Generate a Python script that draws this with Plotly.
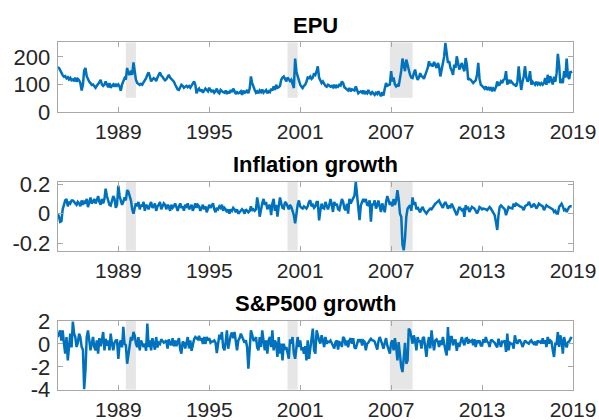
import pandas as pd
import plotly.graph_objects as go

# ---------------- data (monthly, Jan 1986 .. Dec 2019) ----------------
dates = pd.date_range("1986-01-01", periods=408, freq="MS")

epu = [
    162, 160, 152, 140, 133, 128, 130, 122, 126, 118, 124, 115,  # 1986
    118, 112, 125, 110, 120, 115, 105, 78, 100, 150, 160, 130,   # 1987
    118, 110, 105, 98, 100, 92, 88, 95, 100, 108, 117, 100,      # 1988
    95, 100, 111, 98, 90, 105, 88, 95, 100, 92, 102, 95,         # 1989
    100, 92, 77, 100, 112, 123, 118, 160, 140, 135, 150, 135,    # 1990
    180, 140, 117, 105, 100, 98, 102, 99, 108, 115, 123, 135,    # 1991
    144, 128, 111, 118, 123, 120, 112, 125, 135, 144, 132, 128,  # 1992
    120, 115, 118, 128, 135, 125, 120, 118, 110, 100, 90, 82,    # 1993
    80, 90, 99, 95, 88, 92, 95, 90, 94, 88, 95, 105,             # 1994
    111, 98, 68, 80, 85, 75, 82, 70, 78, 85, 80, 75,             # 1995
    88, 78, 72, 80, 70, 75, 85, 72, 68, 80, 75, 72,              # 1996
    70, 78, 65, 75, 68, 80, 72, 85, 75, 65, 72, 68,              # 1997
    70, 75, 62, 78, 70, 72, 80, 68, 85, 129, 105, 88,            # 1998
    80, 70, 75, 68, 78, 72, 82, 70, 75, 80, 68, 75,              # 1999
    72, 85, 78, 93, 80, 99, 88, 90, 95, 117, 125, 129,           # 2000
    120, 111, 125, 118, 112, 117, 100, 87, 194, 148, 130, 110,   # 2001
    99, 92, 87, 95, 99, 110, 125, 123, 129, 120, 125, 140,       # 2002
    135, 148, 166, 125, 111, 105, 111, 100, 95, 92, 99, 96,      # 2003
    92, 95, 90, 99, 87, 95, 92, 99, 96, 111, 105, 90,            # 2004
    85, 80, 78, 87, 75, 82, 80, 78, 93, 80, 68, 72,              # 2005
    75, 70, 78, 65, 72, 68, 80, 70, 65, 72, 68, 62,              # 2006
    70, 65, 75, 62, 57, 72, 60, 85, 105, 95, 98, 100,            # 2007
    148, 111, 125, 100, 93, 98, 93, 120, 150, 194, 166, 148,     # 2008
    190, 170, 148, 135, 125, 123, 140, 154, 130, 117, 125, 141,  # 2009
    130, 128, 120, 135, 145, 160, 184, 170, 172, 165, 182, 170,  # 2010
    160, 178, 165, 129, 150, 172, 200, 251, 200, 178, 184, 160,  # 2011
    150, 135, 172, 160, 202, 180, 154, 165, 178, 160, 148, 196,  # 2012
    170, 117, 120, 117, 112, 105, 110, 115, 135, 178, 120, 99,   # 2013
    95, 90, 85, 93, 80, 87, 82, 90, 75, 85, 80, 90,              # 2014
    111, 98, 100, 111, 105, 117, 120, 148, 99, 117, 105, 112,    # 2015
    105, 100, 99, 93, 110, 166, 120, 80, 110, 130, 166, 125,     # 2016
    110, 120, 148, 99, 110, 105, 99, 110, 100, 105, 99, 105,     # 2017
    99, 105, 123, 99, 135, 105, 130, 115, 100, 128, 110, 140,    # 2018
    211, 170, 105, 120, 105, 148, 125, 194, 130, 120, 148, 141,  # 2019
]

inflation = [
    0.00, -0.02, -0.055, -0.05, 0.03, 0.07, 0.09, 0.10, 0.05, 0.08, 0.07, 0.09,   # 1986
    0.09, 0.08, 0.07, 0.06, 0.08, 0.07, 0.05, 0.09, 0.06, 0.08, 0.07, 0.10,       # 1987
    0.045, 0.09, 0.11, 0.07, 0.08, 0.10, 0.07, 0.09, 0.12, 0.08, 0.06, 0.10,      # 1988
    0.07, 0.10, 0.17, 0.12, 0.09, 0.06, 0.055, 0.08, 0.12, 0.10, 0.04, 0.06,      # 1989
    0.19, 0.12, 0.09, 0.06, 0.08, 0.11, 0.09, 0.16, 0.15, 0.12, 0.09, 0.03,       # 1990
    0.00, 0.04, 0.07, 0.05, 0.08, 0.03, 0.06, 0.05, 0.08, 0.02, 0.06, 0.05,       # 1991
    0.03, 0.06, 0.08, 0.04, 0.05, 0.07, 0.02, 0.05, 0.06, 0.08, 0.03, 0.05,       # 1992
    0.07, 0.06, 0.03, 0.06, 0.05, 0.02, 0.06, 0.04, 0.05, 0.07, 0.04, 0.02,       # 1993
    0.05, 0.07, 0.04, 0.05, 0.02, 0.06, 0.05, 0.07, 0.03, 0.05, 0.06, 0.02,       # 1994
    0.05, 0.07, 0.04, 0.06, 0.05, 0.02, 0.04, 0.06, 0.03, 0.05, 0.01, 0.04,       # 1995
    0.06, 0.04, 0.06, 0.07, 0.03, 0.01, 0.04, 0.03, 0.05, 0.04, 0.06, 0.02,       # 1996
    0.04, 0.03, 0.01, 0.03, 0.00, 0.03, 0.02, 0.04, 0.03, 0.01, 0.03, 0.00,       # 1997
    0.01, 0.02, 0.03, 0.02, 0.00, 0.03, 0.02, 0.01, 0.02, 0.05, 0.02, 0.03,       # 1998
    0.02, 0.03, 0.11, 0.06, -0.02, 0.04, 0.07, 0.10, 0.06, 0.08, 0.03, 0.05,      # 1999
    0.06, -0.01, 0.07, 0.10, 0.02, 0.06, -0.02, 0.05, 0.11, 0.07, 0.04, 0.035,    # 2000
    0.08, 0.07, 0.05, 0.03, 0.06, 0.045, 0.02, -0.01, -0.065, 0.0, 0.06, 0.09,    # 2001
    0.05, 0.04, 0.035, 0.05, 0.04, 0.035, 0.05, 0.08, 0.09, 0.05, 0.06, 0.04,     # 2002
    0.05, 0.08, 0.08, -0.045, 0.02, 0.068, 0.04, 0.035, 0.08, 0.06, 0.03, 0.057,  # 2003
    0.10, 0.06, 0.012, 0.08, 0.057, 0.068, 0.03, 0.024, 0.068, 0.10, 0.08, 0.035, # 2004
    0.024, 0.068, 0.001, 0.10, 0.07, 0.09, 0.10, 0.123, 0.216, 0.123, 0.02, -0.043,  # 2005
    0.057, 0.08, 0.10, 0.079, 0.10, 0.06, 0.057, 0.09, -0.054, 0.068, 0.057, 0.09,   # 2006
    0.035, 0.057, 0.09, 0.05, 0.012, 0.07, 0.04, 0.01, 0.08, 0.12, 0.09, 0.06,    # 2007
    0.08, 0.05, 0.10, 0.06, 0.09, 0.16, 0.10, 0.0, -0.02, -0.21, -0.248, -0.165,  # 2008
    -0.02, 0.035, 0.046, 0.057, 0.02, 0.11, 0.06, 0.079, 0.03, 0.046, 0.024, 0.01,   # 2009
    0.035, 0.046, 0.024, 0.01, 0.001, 0.015, 0.024, 0.035, 0.03, 0.046, 0.055, 0.068, # 2010
    0.075, 0.08, 0.09, 0.07, 0.057, 0.04, 0.065, 0.079, 0.06, 0.035, 0.05, 0.045,    # 2011
    0.068, 0.05, 0.024, 0.01, -0.01, 0.02, 0.046, 0.035, 0.024, 0.03, -0.021, 0.057, # 2012
    0.035, 0.04, 0.012, 0.03, 0.046, 0.04, 0.035, 0.02, 0.001, 0.02, 0.046, 0.04,    # 2013
    0.03, 0.035, 0.035, 0.03, 0.024, 0.035, 0.046, 0.035, 0.02, 0.0, -0.01, -0.054,  # 2014
    -0.11, -0.01, 0.046, 0.057, 0.05, 0.04, 0.03, -0.01, 0.02, 0.046, 0.04, 0.035,   # 2015
    0.035, 0.068, 0.05, 0.068, 0.06, 0.057, 0.05, 0.046, 0.04, 0.024, 0.05, 0.057,   # 2016
    0.06, 0.08, 0.06, 0.046, 0.05, 0.068, 0.055, 0.035, 0.05, 0.068, 0.06, 0.057,    # 2017
    0.05, 0.024, 0.04, 0.057, 0.05, 0.046, 0.04, 0.035, 0.03, 0.012, 0.02, 0.001,    # 2018
    0.001, 0.046, 0.055, 0.068, 0.05, 0.024, 0.03, 0.012, 0.03, 0.046, 0.05, 0.05,   # 2019
]

sp500 = [
    0.6, 1.0, 1.18, 0.3, 1.18, 0.02, -0.85, 0.6, -1.44, -0.27, 0.89, -0.3,      # 1986
    1.95, 0.89, 0.6, -0.27, 0.1, 0.89, 0.6, -0.27, -0.5, -3.95, -2.3, 0.6,      # 1987
    1.18, 0.31, -0.56, 0.02, 0.6, -0.27, -0.56, 0.31, -0.85, 0.5, -0.2, 0.3,    # 1988
    1.04, -0.56, 0.45, -0.15, 0.31, -0.56, 0.89, 0.02, -0.56, 0.1, 0.3, 0.31,   # 1989
    -1.3, 0.02, 0.3, -0.3, 1.48, 0.0, -0.1, -1.73, -0.85, -0.1, 0.6, 0.3,       # 1990
    1.04, 0.7, 0.02, -0.27, 0.6, -0.56, 0.31, 0.02, -0.27, 0.02, -0.6, 1.77,    # 1991
    -0.27, 0.31, -0.56, 0.5, 0.02, -0.5, 0.6, -0.3, 0.1, 0.0, 0.4, 0.2,         # 1992
    0.1, 0.2, 0.3, -0.4, 0.4, 0.0, -0.1, 0.5, -0.2, 0.3, -0.2, 0.2,             # 1993
    0.5, -0.5, -0.85, 0.2, 0.1, -0.4, 0.3, 0.6, -0.4, 0.3, -0.6, 0.1,           # 1994
    0.4, 0.6, 0.5, 0.4, 0.7, 0.3, 0.5, 0.0, 0.6, 0.0, 0.6, 0.3,                 # 1995
    0.5, 0.1, 0.2, 0.2, 0.3, 0.1, -0.8, 0.3, 0.8, 0.4, 1.04, -0.3,              # 1996
    -0.56, 0.2, 1.18, -0.42, 0.2, 0.75, 1.0, 0.5, 1.04, 0.31, -0.56, 0.3,       # 1997
    0.5, 0.89, 0.6, 0.31, 0.1, 0.31, -0.27, -2.16, 0.02, 1.18, 0.8, 0.31,       # 1998
    0.31, 0.6, -0.3, -0.56, 0.6, -0.27, 1.18, 0.2, -0.56, 0.31, -0.85, 0.3,     # 1999
    0.6, -0.27, 1.18, -0.56, 0.31, 0.0, -1.14, 0.6, -0.85, 0.02, -1.44, 0.02,   # 2000
    -0.5, -0.27, -0.85, -1.3, 0.4, 0.02, 0.6, -0.8, -1.3, -0.27, 0.6, -0.27,    # 2001
    0.31, -0.56, -0.3, -0.85, -0.2, -1.44, 0.31, -1.3, -0.5, 0.6, 1.33, -0.56,  # 2002
    -0.85, 1.18, 0.6, 0.3, 0.02, 0.75, 0.31, -0.27, 0.6, 0.02, 0.2, 0.16,       # 2003
    0.3, 0.1, -0.13, -0.4, 0.16, 0.3, -0.5, 0.16, 0.1, -0.27, 0.6, 0.45,        # 2004
    -0.13, 0.3, -0.3, 0.31, 0.5, 0.02, 0.5, -0.3, -0.42, 0.0, 0.4, 0.16,        # 2005
    0.4, -0.13, 0.3, 0.2, -0.56, 0.02, 0.1, 0.3, 0.45, 0.31, 0.3, 0.2,          # 2006
    -0.27, -0.5, 0.2, 0.6, 0.31, 0.02, -0.42, 0.1, 0.5, -0.13, -0.6, -0.85,     # 2007
    0.1, 0.31, -0.56, 0.5, -0.27, -1.44, 0.16, -1.14, -2.02, -2.46, -0.85, 0.1, # 2008
    -1.73, -1.44, 1.33, 1.18, 0.6, 0.02, 0.75, 0.3, -0.56, 0.6, 0.16, 0.3,      # 2009
    -0.4, 0.5, 0.6, -0.27, -1.14, 0.02, 0.6, -0.4, 1.18, 0.16, -0.56, 0.31,     # 2010
    0.4, 0.2, -0.27, 0.3, -0.1, 0.6, -0.2, -0.56, -1.0, 1.48, -0.56, 0.6,       # 2011
    0.6, -0.13, 0.3, 0.31, -0.6, 0.1, -0.27, 0.3, 0.6, 0.16, -0.13, 0.45,       # 2012
    0.5, 0.02, 0.3, 0.2, 0.31, -0.1, 0.4, -0.27, 0.3, 0.16, 0.3, -0.13,         # 2013
    -0.13, 0.4, 0.1, 0.6, 0.2, 0.1, -0.27, 0.3, 0.31, 0.2, 0.1, -0.13,          # 2014
    -0.3, 0.45, 0.1, -0.27, 0.2, 0.16, 0.3, -0.7, 0.89, -0.56, 0.1, 0.02,       # 2015
    0.02, -0.42, 0.75, 0.2, 0.02, 0.3, 0.31, 0.1, -0.27, 0.0, 0.3, 0.16,        # 2016
    0.1, 0.02, 0.2, 0.31, 0.1, 0.0, 0.2, -0.13, 0.3, 0.16, 0.2, 0.02,           # 2017
    0.5, 0.02, 0.31, -0.27, 0.6, 0.02, 0.3, 0.2, -0.56, -1.14, 0.02, 0.0,       # 2018
    1.04, -0.27, 0.75, 0.3, -0.85, 0.6, 0.02, -0.3, 0.16, 0.2, 0.45, 0.6,       # 2019
]

titles = ["EPU", "Inflation growth", "S&P500 growth"]

# recession shading periods
rec_start = ["1990-07-01", "2001-03-01", "2007-12-01"]
rec_end = ["1991-03-01", "2001-11-01", "2009-06-01"]

# x ticks (as labelled in the original figure)
xtick_pos = ["1990-01-01", "1996-01-01", "2002-01-01", "2008-01-01", "2014-01-01", "2020-01-01"]
xtick_lab = ["1989", "1995", "2001", "2007", "2013", "2019"]

ytick_vals = [[0, 100, 200], [-0.2, 0, 0.2], [-4, -2, 0, 2]]
ytick_text = [["0", "100", "200"], ["-0.2", "0", "0.2"], ["-4", "-2", "0", "2"]]
y_ranges = [[0, 253], [-0.25, 0.218], [-4.0, 2.0]]
shade_y = [[52, 253], [-0.25, 0.218], [-4.0, 2.0]]

# ---------------- figure ----------------
W, H = 599, 420
x_dom = [57.7 / W, 573.0 / W]
panels_px = [(42.3, 112.0), (181.5, 250.7), (321.0, 389.7)]
y_doms = [[1 - b / H, 1 - t / H] for t, b in panels_px]

FONT = "Liberation Sans, Arial, Helvetica, sans-serif"
LINE_BLUE = "#0072BD"
FRAME = "#a8a8a8"
TXT = "#262626"

series = [epu, inflation, sp500]
fig = go.Figure()
layout = dict(
    width=W, height=H, margin=dict(l=0, r=0, t=0, b=0, autoexpand=False),
    paper_bgcolor="white", plot_bgcolor="white", showlegend=False,
    font=dict(family=FONT, size=22, color=TXT),
    shapes=[], annotations=[],
)

for i, vals in enumerate(series):
    n = "" if i == 0 else str(i + 1)
    fig.add_trace(go.Scatter(
        x=dates, y=vals, mode="lines",
        line=dict(color=LINE_BLUE, width=2.5),
        xaxis="x" + n, yaxis="y" + n, hoverinfo="skip",
    ))
    layout["xaxis" + n] = dict(
        domain=x_dom, anchor="y" + n, type="date", automargin=False,
        range=["1986-01-01", "2020-01-01"],
        tickmode="array", tickvals=xtick_pos, ticktext=xtick_lab,
        ticks="inside", ticklen=5, tickcolor=FRAME, tickwidth=1,
        showline=True, linecolor=FRAME, linewidth=1, mirror="ticks",
        showgrid=False, zeroline=False,
        tickfont=dict(family=FONT, size=21, color=TXT),
        ticklabelstandoff=1,
    )
    layout["yaxis" + n] = dict(
        domain=y_doms[i], anchor="x" + n, range=y_ranges[i], automargin=False,
        tickmode="array", tickvals=ytick_vals[i], ticktext=ytick_text[i],
        ticks="inside", ticklen=5, tickcolor=FRAME, tickwidth=1,
        showline=True, linecolor=FRAME, linewidth=1, mirror="ticks",
        showgrid=False, zeroline=False,
        tickfont=dict(family=FONT, size=22, color=TXT),
        ticklabelstandoff=2,
    )
    for s, e in zip(rec_start, rec_end):
        layout["shapes"].append(dict(
            type="rect", xref="x" + n, yref="y" + n,
            x0=s, x1=e, y0=shade_y[i][0], y1=shade_y[i][1],
            fillcolor="#e6e6e6", line=dict(width=0), layer="below",
        ))
    layout["annotations"].append(dict(
        text="<b>" + titles[i] + "</b>", xref="paper", yref="paper",
        x=(x_dom[0] + x_dom[1]) / 2, y=y_doms[i][1] + 17.0 / H,
        xanchor="center", yanchor="middle", showarrow=False,
        font=dict(family=FONT, size=22, color="black"),
    ))

fig.update_layout(**layout)
fig.write_html(
    "out.html",
    config={"displayModeBar": False, "staticPlot": True},
    post_script="document.body.style.margin='0px';document.body.style.padding='0px';",
)
